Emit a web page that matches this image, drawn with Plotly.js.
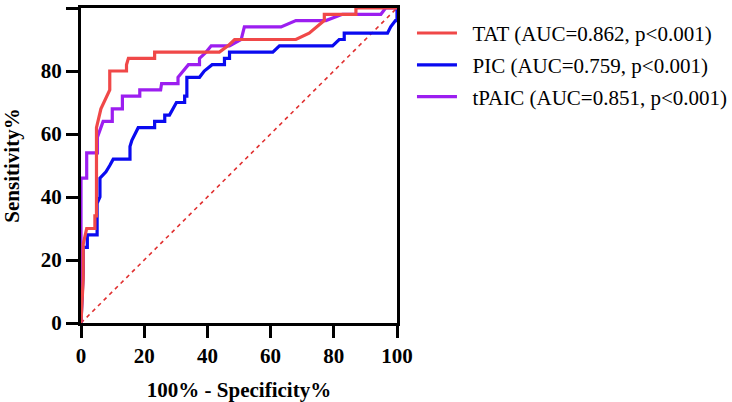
<!DOCTYPE html>
<html>
<head>
<meta charset="utf-8">
<script src="https://cdn.plot.ly/plotly-3.0.1.min.js"></script>
<style>
  html, body { margin: 0; padding: 0; background: #fff; }
  #roc { width: 732px; height: 402px; }
</style>
</head>
<body>
<div id="roc"></div>
<script>
// ROC curve points (100% - specificity, sensitivity)
var tatX = [0, 0.7, 0.7, 1.8, 4.4, 4.4, 4.9, 4.9, 6.3, 9.1, 9.1, 14.4, 14.4, 15, 23.3, 23.3, 43.8, 46.5, 48.6, 68, 72.2, 77, 77, 87, 87, 100];
var tatY = [0, 14, 25, 30, 30, 34, 34, 62, 68, 74, 80, 80, 82, 84, 84, 86, 86, 88, 90, 90, 92, 96, 98, 98, 100, 100];

var picX = [0, 0.7, 0.7, 2, 2, 5.1, 5.1, 6, 6, 7.9, 9.1, 10.2, 15.5, 15.5, 16.1, 18.1, 23.3, 23.3, 26.5, 26.5,
            28, 30.2, 32.8, 32.8, 33.5, 33.5, 37.5, 39, 41.5, 45.4, 45.4, 47, 47, 60.7, 62.8, 79.6, 81.7, 83.3, 83.3, 97,
            98, 99.5, 100, 100];
var picY = [0, 16, 24, 24, 28, 28, 38, 40, 46, 48, 50, 52, 52, 56, 58, 62, 62, 64, 64, 66,
            66, 70, 70, 72, 72, 78, 78, 80, 82, 82, 84, 84, 86, 86, 88, 88, 90, 90, 92, 92,
            94, 96, 96, 100];

var tpaicX = [0, 0, 1.8, 1.8, 5.2, 5.2, 7, 9.9, 9.9, 13.1, 13.1, 18.6, 18.6, 25.2, 25.5, 30.7, 30.7, 32.3, 34, 37.5,
              37.5, 39.6, 41.2, 47, 50.7, 51.7, 63.3, 68, 77.5, 82.7, 94.9, 96.4, 100];
var tpaicY = [0, 46, 46, 54, 54, 59, 64, 64, 68, 68, 72, 72, 74, 74, 76, 76, 78, 80, 82, 82,
              84, 86, 88, 88, 90, 94, 94, 96, 96, 98, 98, 100, 100];

var refX = [0, 100];
var refY = [0, 100];

var names = ['TAT (AUC=0.862, p<0.001)', 'PIC (AUC=0.759, p<0.001)', 'tPAIC (AUC=0.851, p<0.001)'];
var colors = ['#f04848', '#0a0af0', '#9c1ef0'];

var serif = 'Liberation Serif, Times New Roman, serif';
var pad = '\u00a0\u00a0';

function curve(x, y, i) {
	return {
		x: x, y: y,
		mode: 'lines',
		name: pad + names[i],
		legendgroup: 'g' + i,
		legendrank: i + 1,
		line: {color: colors[i], width: 3.2},
		cliponaxis: false
	};
}

var data = [
	{
		x: refX, y: refY,
		mode: 'lines',
		showlegend: false,
		hoverinfo: 'skip',
		line: {color: '#e03030', width: 1.6, dash: '4px,4px'}
	},
	curve(picX, picY, 1),
	curve(tpaicX, tpaicY, 2),
	curve(tatX, tatY, 0)
];

var axisBase = {
	range: [0, 100],
	dtick: 20,
	showgrid: false,
	zeroline: false,
	showline: true,
	mirror: true,
	linewidth: 3,
	linecolor: '#000',
	ticks: 'outside',
	ticklen: 12,
	tickwidth: 3,
	tickcolor: '#000',
	tickfont: {family: serif, size: 21, color: '#000', weight: 'bold'}
};

var titleFont = {family: serif, size: 21, color: '#000', weight: 'bold'};

var layout = {
	width: 732,
	height: 402,
	margin: {l: 81, r: 335, t: 8, b: 79},
	paper_bgcolor: '#fff',
	plot_bgcolor: '#fff',
	xaxis: Object.assign({}, axisBase, {
		title: {text: '100% - Specificity%', font: titleFont, standoff: 17}
	}),
	yaxis: Object.assign({}, axisBase, {
		title: {text: 'Sensitivity%', font: titleFont, standoff: 18}
	}),
	showlegend: true,
	legend: {
		xref: 'container', yref: 'container',
		x: 0.5628, y: 0.968,
		xanchor: 'left', yanchor: 'top',
		traceorder: 'grouped',
		tracegroupgap: 1.5,
		font: {family: serif, size: 21, color: '#000'},
		itemwidth: 40,
		bgcolor: 'rgba(0,0,0,0)'
	}
};

Plotly.newPlot('roc', data, layout, {staticPlot: true});
</script>
</body>
</html>
